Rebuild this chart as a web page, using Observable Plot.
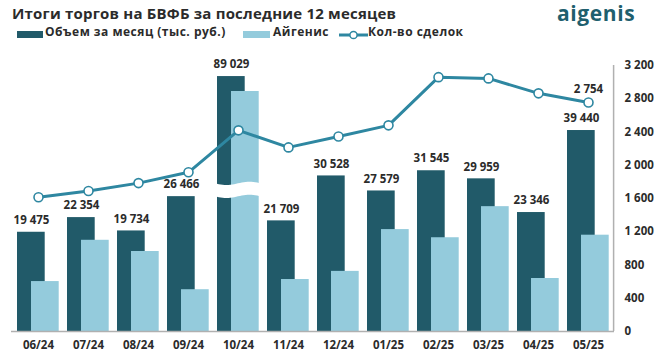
<!DOCTYPE html>
<html><head><meta charset="utf-8">
<script src="https://cdn.jsdelivr.net/npm/d3@7"></script>
<script src="https://cdn.jsdelivr.net/npm/@observablehq/plot@0.6"></script>
<style>
body{margin:0;background:#fff;font-family:"Open Sans",sans-serif;color:#2b2b2b;}
#wrap{width:663px;height:362px;position:relative;overflow:hidden;}
#head{position:relative;height:44px;}
#title{position:absolute;left:12px;top:3.5px;font-size:15px;line-height:18px;letter-spacing:0.2px;font-weight:700;color:#2b2b2b;white-space:nowrap;}
#logo{position:absolute;left:557px;top:2px;font-size:21px;line-height:22px;letter-spacing:0.6px;font-weight:700;color:#1f5f6e;}
.lt{position:absolute;top:25px;font-size:12px;line-height:14px;letter-spacing:0.5px;font-weight:700;white-space:nowrap;color:#2b2b2b;}
.sw{position:absolute;top:31px;height:7px;}
svg{display:block;}
</style></head>
<body><div id="wrap">
<div id="head"><div id="title"></div><div id="logo">aigenis</div>
<span class="sw" id="sw1" style="left:17px;width:26px"></span><span class="lt" id="lt1" style="left:45px"></span>
<span class="sw" id="sw2" style="left:243px;width:27px"></span><span class="lt" id="lt2" style="left:273px"></span>
<svg id="sw3" width="29" height="10" style="position:absolute;left:339px;top:29.5px"></svg><span class="lt" id="lt3" style="left:368px"></span>
</div>
<div id="chart"></div>
</div>
<script>
const titleText = "Итоги торгов на БВФБ за последние 12 месяцев";
const seriesNames = ["Объем за месяц (тыс. руб.)", "Айгенис", "Кол-во сделок"];
const months = ["06/24","07/24","08/24","09/24","10/24","11/24","12/24","01/25","02/25","03/25","04/25","05/25"];
const volume = [19475, 22354, 19734, 26466, 89029, 21709, 30528, 27579, 31545, 29959, 23346, 39440];
const aigenis = [9800, 17900, 15700, 8200, 86100, 10200, 11800, 20000, 18400, 24500, 10400, 18900];
const deals = [1615, 1690, 1785, 1915, 2420, 2215, 2345, 2480, 3060, 3045, 2865, 2754];
const countTicks = [0, 400, 800, 1200, 1600, 2000, 2400, 2800, 3200];

const DARK = "#215a69", LIGHT = "#94cbdc", LINE = "#2e87a1";
const volMax = 52200;          // hidden left-axis top (thousand rub.)
const k = 3200 / volMax;       // volume units -> deal-count units
const breakCut = 39000;        // amount removed by the axis break
const breakAt = 27700;         // displayed value where the break sits
const disp = v => (v > volMax ? v - breakCut : v) * k;
const fmt = v => d3.format(",")(v).replace(/,/g, " ");

document.getElementById("title").textContent = titleText;
document.getElementById("lt1").textContent = seriesNames[0];
document.getElementById("lt2").textContent = seriesNames[1];
document.getElementById("lt3").textContent = seriesNames[2];
document.getElementById("sw1").style.background = DARK;
document.getElementById("sw2").style.background = LIGHT;
document.getElementById("sw3").innerHTML =
  `<line x1="0" x2="29" y1="5" y2="5" stroke="${LINE}" stroke-width="3"/><circle cx="14.5" cy="5" r="3.6" fill="#fff" stroke="${LINE}" stroke-width="1.5"/>`;

const rows = months.map((m, i) => ({m, vol: volume[i], ai: aigenis[i], deals: deals[i]}));
const broken = rows.filter(d => d.vol > volMax);

function breakMark(index, scales) {
  const ns = "http://www.w3.org/2000/svg";
  const g = document.createElementNS(ns, "g");
  for (const d of broken) {
    const x0 = scales.x(d.m);
    const bw = typeof scales.x.bandwidth === "function" ? scales.x.bandwidth() : scales.x.bandwidth;
    const yc = scales.y(breakAt * k);
    const xa = x0 + 2, xb = x0 + bw - 2, h = 6.5, a = 1.6, n = 24;
    let top = [], bot = [];
    for (let j = 0; j <= n; j++) {
      const t = j / n, x = xa + (xb - xa) * t, w = a * Math.sin(t * 2 * Math.PI);
      top.push([x, yc - h + w]); bot.push([x, yc + h + w]);
    }
    const pts = top.concat(bot.reverse());
    const p = document.createElementNS(ns, "path");
    p.setAttribute("d", "M" + pts.map(q => q.join(",")).join("L") + "Z");
    p.setAttribute("fill", "#fff");
    g.appendChild(p);
  }
  return g;
}

const chart = Plot.plot({
  width: 663, height: 318,
  marginTop: 21, marginBottom: 31, marginLeft: 11, marginRight: 49,
  style: {fontFamily: "Open Sans, sans-serif", fontWeight: 700, fontSize: "11.5px", color: "#2b2b2b"},
  x: {domain: months, padding: 0, label: null},
  y: {domain: [0, 3200], label: null},
  marks: [
    Plot.barY(rows, {x: "m", y: d => disp(d.vol), fill: DARK, insetLeft: 4, insetRight: 18.3}),
    Plot.barY(rows, {x: "m", y: d => disp(d.ai), fill: LIGHT, insetLeft: 18, insetRight: 4.3}),
    breakMark,
    Plot.ruleY([0], {stroke: "#b0b0b0", strokeWidth: 1.5}),
    Plot.axisX({tickSize: 0, tickPadding: 9, fontSize: 11.5, fontWeight: 700, fill: "#2b2b2b"}),
    Plot.axisY({anchor: "right", ticks: countTicks, tickSize: 0, tickPadding: 10, tickFormat: fmt, fontSize: 11.5, fontWeight: 700, fill: "#2b2b2b"}),
    Plot.ruleX([months[months.length - 1]], {stroke: "#b0b0b0", strokeWidth: 1.5, dx: 25.1, y1: 0, y2: 3200}),
    Plot.line(rows, {x: "m", y: "deals", stroke: LINE, strokeWidth: 3}),
    Plot.dot(rows, {x: "m", y: "deals", r: 4.5, fill: "#fff", stroke: LINE, strokeWidth: 1.6}),
    Plot.text(rows, {x: "m", y: d => disp(d.vol), text: d => fmt(d.vol), dx: -7, dy: -12, fontSize: 11.5, fontWeight: 700, fill: "#2b2b2b"}),
    Plot.text(rows.slice(-1), {x: "m", y: "deals", text: d => fmt(d.deals), dy: -13, fontSize: 11.5, fontWeight: 700, fill: "#2b2b2b"})
  ]
});
document.getElementById("chart").appendChild(chart);
</script>
</body></html>
